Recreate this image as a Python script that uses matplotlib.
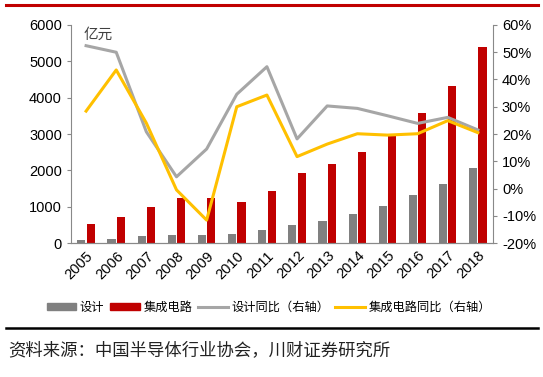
import matplotlib.pyplot as plt
import numpy as np
from matplotlib.lines import Line2D
from matplotlib.patches import Patch

plt.rcParams["font.family"] = ["Liberation Sans", "Noto Sans CJK SC", "DejaVu Sans"]

years = ["2005", "2006", "2007", "2008", "2009", "2010", "2011",
         "2012", "2013", "2014", "2015", "2016", "2017", "2018"]
design = [83, 119, 184, 220, 220, 257, 358, 504, 606, 798, 1027, 1321, 1633, 2056]
ic = [523, 707, 991, 1239, 1239, 1120, 1440, 1927, 2166, 2505, 2973, 3587, 4330, 5395]
design_yoy = [52.4, 50.0, 20.8, 4.3, 14.5, 34.6, 44.7, 18.2, 30.3, 29.4, 26.7, 23.9, 26.1, 21.5]
ic_yoy = [28.4, 43.5, 24.0, -0.5, -11.6, 30.0, 34.3, 11.7, 16.3, 20.1, 19.6, 20.1, 24.9, 20.5]

GRAY_BAR = "#808080"
RED = "#C00000"
GRAY_LINE = "#A6A6A6"
YELLOW = "#FFC000"
SPINE = "#898989"
CJK = ["Noto Sans CJK SC", "DejaVu Sans"]

fig = plt.figure(figsize=(5.43, 3.77), dpi=100)
ax = fig.add_axes([0.1308, 0.3554, 0.777, 0.5783])
ax2 = ax.twinx()

x = np.arange(len(years))
w = 0.27
ax.bar(x - w / 2 - 0.02, design, w, color=GRAY_BAR, zorder=2)
ax.bar(x + w / 2 + 0.02, ic, w, color=RED, zorder=2)
ax.set_xlim(-0.5, len(years) - 0.5)
ax.set_ylim(0, 6000)
ax.set_yticks(range(0, 6001, 1000))
ax.set_xticks(x)
ax.set_xticklabels(years, rotation=45, ha="right", rotation_mode="anchor")

ax2.plot(x, design_yoy, color=GRAY_LINE, lw=2.2, zorder=3)
ax2.plot(x, ic_yoy, color=YELLOW, lw=2.2, zorder=3)
ax2.set_ylim(-20, 60)
ax2.set_yticks(range(-20, 61, 10))
ax2.set_yticklabels([f"{v}%" for v in range(-20, 61, 10)])

for a in (ax, ax2):
    a.spines["top"].set_visible(False)
    for s in ("left", "right", "bottom"):
        a.spines[s].set_color(SPINE)
    a.tick_params(labelsize=10.5, color=SPINE, length=3)
ax.spines["right"].set_visible(False)
ax2.spines["left"].set_visible(False)
ax.tick_params(axis="x", length=0, pad=4)
ax.set_zorder(ax2.get_zorder() - 1)
ax2.patch.set_visible(False)
ax.patch.set_visible(False)

ax.text(0.03, 0.985, "亿元", transform=ax.transAxes, fontsize=10.5,
        family=CJK, color="#404040", va="top", ha="left")

handles = [
    Patch(color=GRAY_BAR, label="设计"),
    Patch(color=RED, label="集成电路"),
    Line2D([0], [0], color=GRAY_LINE, lw=2.2, label="设计同比（右轴）"),
    Line2D([0], [0], color=YELLOW, lw=2.2, label="集成电路同比（右轴）"),
]
fig.legend(handles=handles, loc="center", bbox_to_anchor=(0.495, 0.185), ncol=4,
           frameon=False, prop={"family": CJK, "size": 8.8},
           handlelength=2.4, handleheight=0.6, handletextpad=0.3, columnspacing=0.5)

fig.add_artist(Line2D([0.011, 0.99], [0.987, 0.987], color=RED, lw=2.2))
fig.add_artist(Line2D([0.011, 0.99], [0.13, 0.13], color="black", lw=1.8))
fig.text(0.015, 0.072, "资料来源：中国半导体行业协会，川财证券研究所", fontsize=12.5,
         family=CJK, color="#222222", style="italic", va="center")

fig.savefig("out.png", dpi=100)
